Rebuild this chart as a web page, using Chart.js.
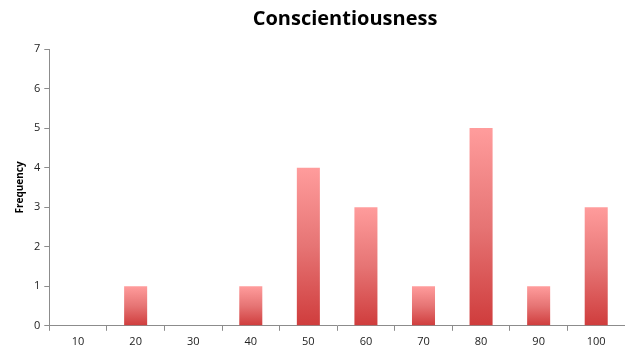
<!DOCTYPE html>
<html>
<head>
<meta charset="utf-8">
<script src="https://cdn.jsdelivr.net/npm/chart.js@4"></script>
<style>
  html, body { margin: 0; padding: 0; background: #fff; }
  #wrap { width: 625px; height: 354px; }
</style>
</head>
<body>
<div id="wrap"><canvas id="scoreChart"></canvas></div>
<script>
const categories = ["10", "20", "30", "40", "50", "60", "70", "80", "90", "100"];
const frequency = [0, 1, 0, 1, 4, 3, 1, 5, 1, 3];
const yTicks = [0, 1, 2, 3, 4, 5, 6, 7];
const chartTitle = 'Conscientiousness';

const axisGray = '#8c8c8c';

function barGradient(context) {
    const chart = context.chart;
    if (!chart.chartArea || !chart.scales.y) return '#e06060';
    const yScale = chart.scales.y;
    const value = frequency[context.dataIndex] || 0;
    const top = yScale.getPixelForValue(value);
    const bottom = yScale.getPixelForValue(0);
    if (bottom - top < 1) return '#e06060';
    const g = chart.ctx.createLinearGradient(0, top, 0, bottom);
    g.addColorStop(0, '#ff9c9c');
    g.addColorStop(0.5, '#e67474');
    g.addColorStop(1, '#cf3c3c');
    return g;
}

// title is centred a bit right of the canvas middle, like the original
const titlePlugin = {
    id: 'offsetTitle',
    afterDraw(chart) {
        const c = chart.ctx;
        c.save();
        c.font = 'bold 20px "Open Sans"';
        c.fillStyle = '#000';
        c.textAlign = 'center';
        c.textBaseline = 'middle';
        c.fillText(chartTitle, 345, 19);
        c.restore();
    }
};

const ctx = document.getElementById('scoreChart').getContext('2d');

let chart = new Chart(ctx, {
    type: 'bar',
    data: {
        labels: categories,
        datasets: [{
            label: 'Frequency',
            data: frequency,
            backgroundColor: barGradient,
            categoryPercentage: 0.4,
            barPercentage: 1.0
        }]
    },
    plugins: [titlePlugin],
    options: {
        responsive: true,
        maintainAspectRatio: false,
        animation: false,
        layout: { padding: { top: 49, right: 0, bottom: 2, left: 14 } },
        plugins: {
            legend: { display: false },
            tooltip: { enabled: false },
            title: { display: false }
        },
        scales: {
            x: {
                offset: true,
                border: { color: axisGray, width: 1 },
                grid: {
                    offset: true,
                    drawOnChartArea: false,
                    drawTicks: true,
                    tickLength: 5,
                    color: axisGray
                },
                ticks: {
                    color: '#222',
                    font: { family: 'Open Sans', size: 11 },
                    padding: 4,
                    maxRotation: 0
                }
            },
            y: {
                min: 0,
                max: 7,
                afterBuildTicks: (axis) => {
                    axis.ticks = yTicks.map(v => ({ value: v }));
                },
                border: { color: axisGray, width: 1 },
                grid: {
                    drawOnChartArea: false,
                    drawTicks: true,
                    tickLength: 5,
                    color: axisGray
                },
                ticks: {
                    color: '#222',
                    font: { family: 'Open Sans', size: 11 },
                    padding: 4
                },
                title: {
                    display: true,
                    text: 'Frequency',
                    color: '#000',
                    font: { family: 'Open Sans', size: 10, weight: 'bold' },
                    padding: { top: 0, bottom: 4 }
                }
            }
        }
    }
});
</script>
</body>
</html>
